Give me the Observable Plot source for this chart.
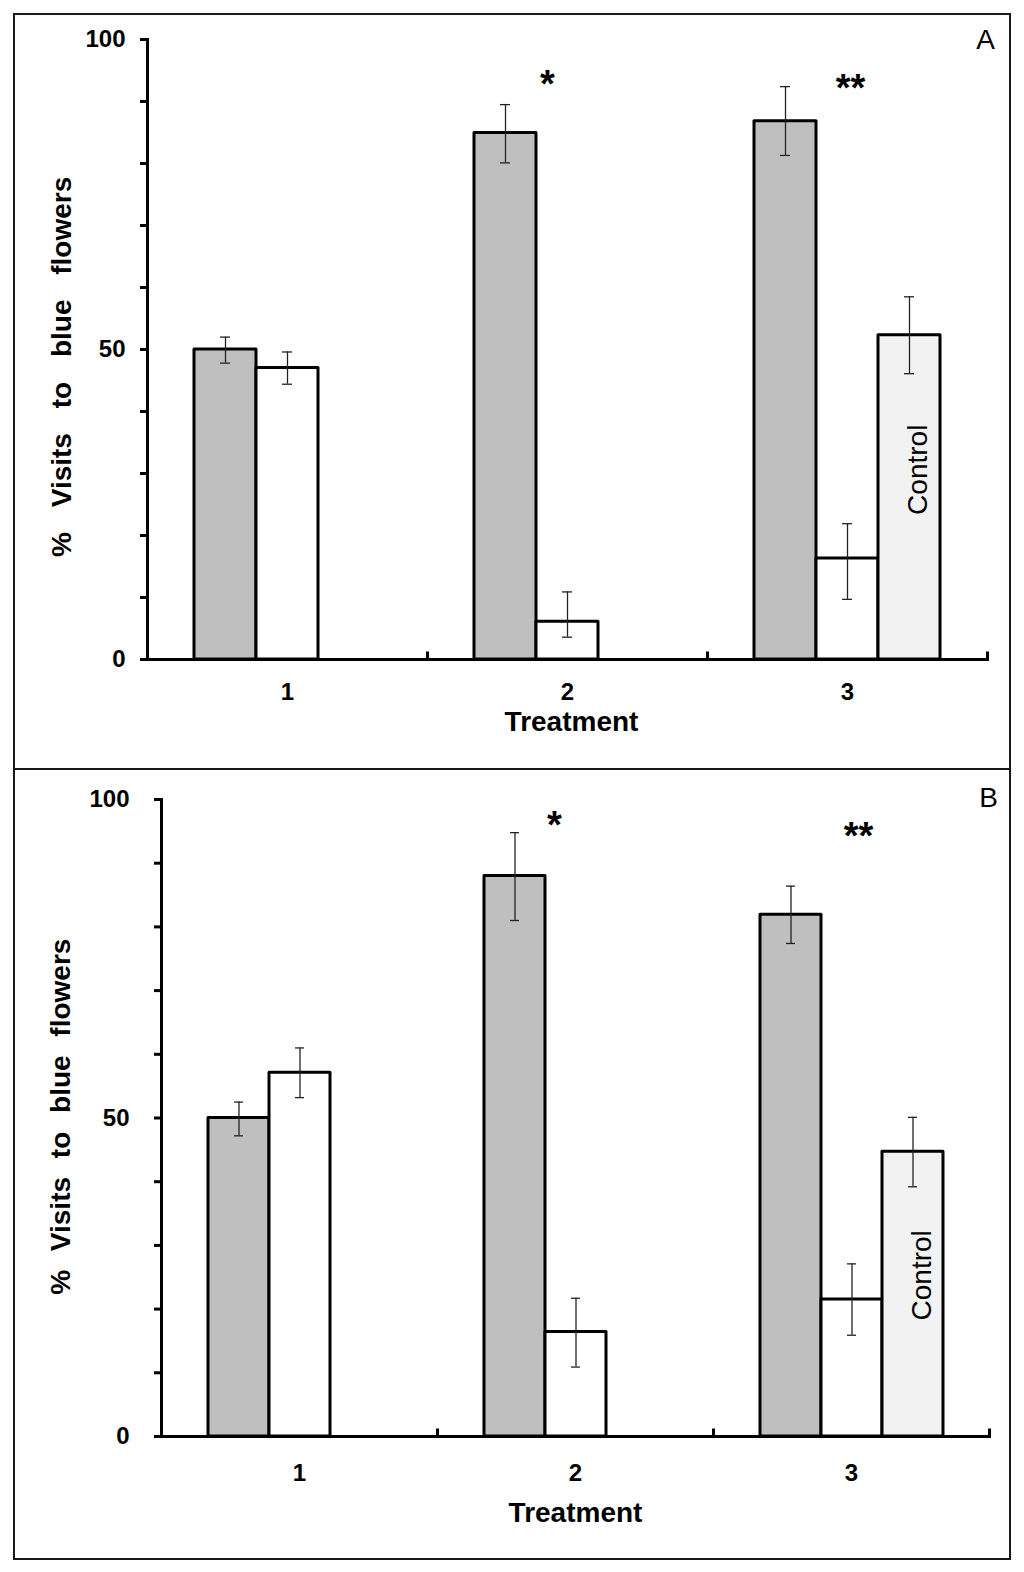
<!DOCTYPE html>
<html>
<head>
<meta charset="utf-8">
<script src="https://cdn.jsdelivr.net/npm/d3@7"></script>
<script src="https://cdn.jsdelivr.net/npm/@observablehq/plot@0.6"></script>
<style>
  html, body { margin: 0; padding: 0; background: #fff; overflow: hidden; }
  #page { position: relative; width: 1024px; height: 1572px; background: #fff; }
  .panel { position: absolute; left: 0; }
  .frame { position: absolute; border: 2px solid #1a1a1a; box-sizing: border-box; pointer-events: none; }
</style>
</head>
<body>
<div id="page">
  <div id="panelA" class="panel" style="top:0px"></div>
  <div id="panelB" class="panel" style="top:769px"></div>
  <div class="frame" style="left:13px;top:13px;width:998px;height:757px"></div>
  <div class="frame" style="left:13px;top:768px;width:998px;height:792px"></div>
</div>
<script>
// ---- shared categories ----
const treatments = ["1", "2", "3"];
const seriesNames = ["gray", "white", "control"];
const seriesFills = ["#bfbfbf", "#ffffff", "#f2f2f2"];
const yTicks = [0, 10, 20, 30, 40, 50, 60, 70, 80, 90, 100];
const yTickLabels = ["0", "", "", "", "", "50", "", "", "", "", "100"];
const yTitle = "% Visits to blue flowers";
const xTitle = "Treatment";

// ---- panel A ----
const aGroup  = ["1", "1", "2", "2", "3", "3", "3"];
const aSeries = ["gray", "white", "gray", "white", "gray", "white", "control"];
const aMean   = [50.0, 47.0, 84.9, 6.1, 86.8, 16.3, 52.3];
const aLow    = [47.8, 44.4, 80.1, 3.6, 81.3, 9.7, 46.1];
const aHigh   = [52.0, 49.6, 89.5, 10.9, 92.4, 21.9, 58.5];
const aSigGroup = ["2", "3"];
const aSigLabel = ["*", "**"];
const aSigY     = [92.7, 92.1];
const aControlY = 30.6;
const aTitleY   = 47.2;

// ---- panel B ----
const bGroup  = ["1", "1", "2", "2", "3", "3", "3"];
const bSeries = ["gray", "white", "gray", "white", "gray", "white", "control"];
const bMean   = [50.0, 57.1, 88.0, 16.4, 81.9, 21.5, 44.7];
const bLow    = [47.2, 53.2, 81.0, 10.9, 77.4, 15.9, 39.2];
const bHigh   = [52.5, 61.0, 94.8, 21.7, 86.4, 27.1, 50.1];
const bSigGroup = ["2", "3"];
const bSigLabel = ["*", "**"];
const bSigY     = [95.8, 94.2];
const bControlY = 25.3;
const bTitleY   = 50.2;

const tickUp = { draw(ctx) { ctx.moveTo(0, 0); ctx.lineTo(0, -8); } };

function panel(cfg) {
  const rows = cfg.group.map((g, i) => ({
    treatment: g, series: cfg.series[i], mean: cfg.mean[i], low: cfg.low[i], high: cfg.high[i]
  }));
  const sig = cfg.sigGroup.map((g, i) => ({ treatment: g, label: cfg.sigLabel[i], y: cfg.sigY[i] }));
  const control = [{ treatment: "3", series: "control", label: "Control", y: cfg.controlY }];
  const title = [{ treatment: "1", label: yTitle, y: cfg.titleY }];
  const errStyle = { stroke: "#222", strokeWidth: 1.3 };
  return Plot.plot({
    width: 1024,
    height: cfg.height,
    marginLeft: cfg.ml, marginRight: cfg.mr, marginTop: cfg.mt, marginBottom: cfg.mb,
    style: `font-family: 'Liberation Sans', Arial, sans-serif; color: #000; background: transparent; word-spacing: ${cfg.wordSpacing}px; overflow: visible;`,
    fx: { domain: treatments, padding: 0, label: null },
    x: { domain: seriesNames, paddingInner: 0, paddingOuter: 0.74, axis: null },
    y: { domain: [0, 100], label: null },
    color: { domain: seriesNames, range: seriesFills },
    marks: [
      Plot.barY(rows, { fx: "treatment", x: "series", y: "mean", fill: "series",
        stroke: "#000", strokeWidth: 3, strokeLinejoin: "round" }),
      Plot.ruleX(rows, { fx: "treatment", x: "series", y1: "low", y2: "high", ...errStyle }),
      Plot.tickY(rows, { fx: "treatment", x: "series", y: "low", insetLeft: cfg.capInset, insetRight: cfg.capInset, ...errStyle }),
      Plot.tickY(rows, { fx: "treatment", x: "series", y: "high", insetLeft: cfg.capInset, insetRight: cfg.capInset, ...errStyle }),
      Plot.frame({ anchor: "bottom", stroke: "#000", strokeWidth: 3 }),
      Plot.frame({ anchor: "left", facetAnchor: "left", stroke: "#000", strokeWidth: 3 }),
      Plot.dot(treatments, { fx: d => d, frameAnchor: "bottom-right", symbol: tickUp,
        fill: "none", stroke: "#000", strokeWidth: 3 }),
      Plot.axisY({ ticks: yTicks, tickFormat: (d) => yTickLabels[yTicks.indexOf(d)],
        tickSize: 7, tickPadding: cfg.yPad, fontSize: 24, fontWeight: "bold",
        stroke: "#000", strokeWidth: 3, label: null }),
      Plot.axisFx({ anchor: "bottom", tickSize: 0, tickPadding: cfg.fxPad, fontSize: 24,
        fontWeight: "bold", label: null }),
      Plot.text([xTitle], { fx: () => "2", frameAnchor: "bottom", textAnchor: "middle", lineAnchor: "middle",
        dy: cfg.xTitleDy, dx: cfg.xTitleDx, fontSize: 28, fontWeight: "bold" }),
      Plot.text(title, { fx: "treatment", y: "y", text: "label", frameAnchor: "left", rotate: -90,
        textAnchor: "middle", lineAnchor: "middle",
        dx: cfg.yTitleDx, fontSize: 28, fontWeight: "bold" }),
      Plot.text([cfg.letter], { fx: () => "3", frameAnchor: "top-right", textAnchor: "middle", lineAnchor: "middle",
        dx: cfg.letterDx, dy: cfg.letterDy, fontSize: 28 }),
      Plot.text(control, { fx: "treatment", x: "series", y: "y", text: "label", rotate: -90,
        textAnchor: "middle", lineAnchor: "middle", dx: 9, fontSize: 28 }),
      Plot.text(sig.filter(d => d.label === "*"), { fx: "treatment", y: "y", text: "label",
        frameAnchor: "middle", textAnchor: "middle", lineAnchor: "middle",
        dx: cfg.sig1Dx, fontSize: 38, fontWeight: "bold" }),
      Plot.text(sig.filter(d => d.label === "**"), { fx: "treatment", y: "y", text: "label",
        frameAnchor: "middle", textAnchor: "middle", lineAnchor: "middle",
        dx: cfg.sig2Dx, fontSize: 38, fontWeight: "bold" })
    ]
  });
}

document.getElementById("panelA").append(panel({
  group: aGroup, series: aSeries, mean: aMean, low: aLow, high: aHigh,
  sigGroup: aSigGroup, sigLabel: aSigLabel, sigY: aSigY, controlY: aControlY, titleY: aTitleY,
  height: 769, ml: 146, mr: 37, mt: 39, mb: 110,
  capInset: 26, yPad: 15, fxPad: 23, xTitleDy: 63, xTitleDx: 4, yTitleDx: -85,
  wordSpacing: 17, letter: "A", letterDx: -2, letterDy: 1, sig1Dx: -20, sig2Dx: 3
}));

document.getElementById("panelB").append(panel({
  group: bGroup, series: bSeries, mean: bMean, low: bLow, high: bHigh,
  sigGroup: bSigGroup, sigLabel: bSigLabel, sigY: bSigY, controlY: bControlY, titleY: bTitleY,
  height: 803, ml: 161, mr: 35, mt: 30, mb: 136,
  capInset: 26, yPad: 25, fxPad: 27, xTitleDy: 77, xTitleDx: 0, yTitleDx: -100,
  wordSpacing: 11, letter: "B", letterDx: -1, letterDy: -1, sig1Dx: -21, sig2Dx: 7
}));
</script>
</body>
</html>
